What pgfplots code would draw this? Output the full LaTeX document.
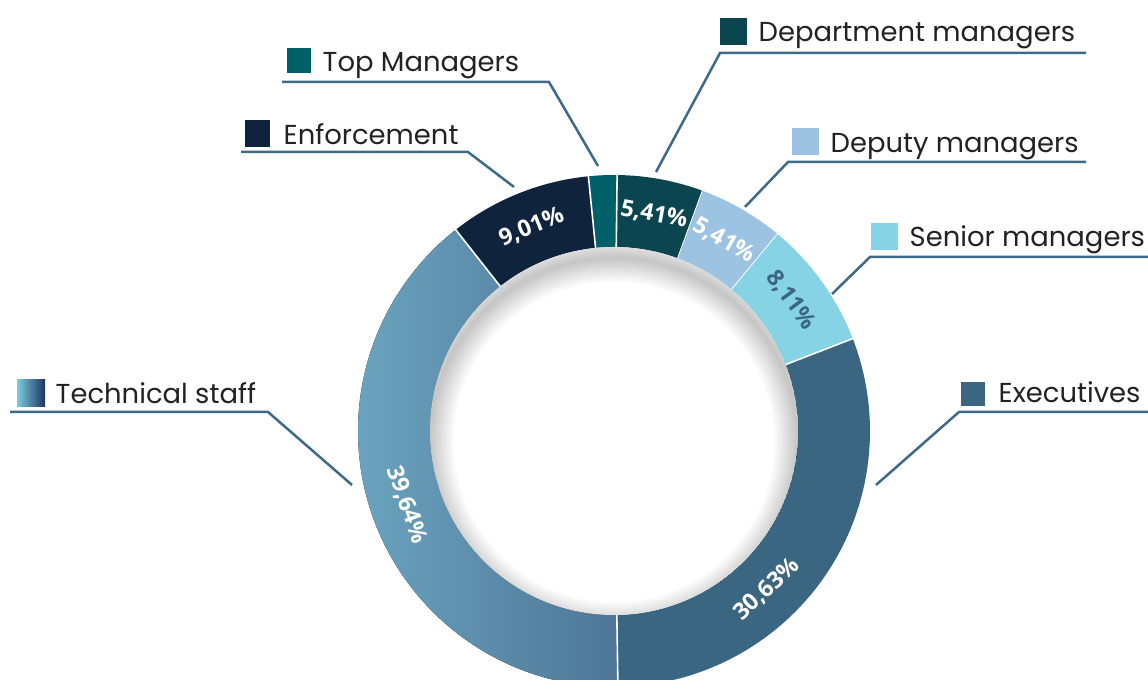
\documentclass[border=0pt]{standalone}
\usepackage{fontspec}
\setmainfont{Poppins}
\newfontfamily\numfont{Open Sans}
\usepackage{pgfplots}
\pgfplotsset{compat=1.18}

\definecolor{cDept}{HTML}{0B4650}
\definecolor{cDep}{HTML}{9DC3E3}
\definecolor{cSen}{HTML}{85D3E5}
\definecolor{cExe}{HTML}{3A6682}
\definecolor{techL}{HTML}{6AA3BF}
\definecolor{techD}{HTML}{4E7696}
\definecolor{cEnf}{HTML}{10233C}
\definecolor{cTop}{HTML}{00606A}
\definecolor{swL}{HTML}{7CCBE0}
\definecolor{swD}{HTML}{1C335F}
\definecolor{lead}{HTML}{3D6A88}
\definecolor{txt}{HTML}{222222}

% shares in percent, clockwise from the top
\def\pDept{5.41}\def\pDep{5.41}\def\pSen{8.11}\def\pExe{30.63}
\def\pTech{39.64}\def\pEnf{9.01}\def\pTop{1.80}

\newcommand\seg[3]{\fill[#3] (#1:25.6mm) arc[start angle=#1,end angle=#2,radius=25.6mm]
  -- (#2:18.4mm) arc[start angle=#2,end angle=#1,radius=18.4mm] -- cycle;}
\newcommand\sep[1]{\draw[white,line width=0.16mm] (#1:18.3mm) -- (#1:25.7mm);}
\newcommand\lab[4]{\node[text=#4,rotate=#2,font=\numfont\bfseries\fontsize{6.6}{7}\selectfont]
  at (#1:22mm) {#3};}

\begin{document}
\begin{tikzpicture}
\pgfmathsetmacro\aA{89.3}
\pgfmathsetmacro\aB{\aA-3.6*\pDept}
\pgfmathsetmacro\aC{\aB-3.6*\pDep}
\pgfmathsetmacro\aD{\aC-3.6*\pSen}
\pgfmathsetmacro\aE{\aD-3.6*\pExe}
\pgfmathsetmacro\aF{\aE-3.6*\pTech}
\pgfmathsetmacro\aG{\aF-3.6*\pEnf}
\pgfmathsetmacro\aH{\aG-3.6*\pTop}
\begin{axis}[width=11.48cm, height=6.8cm, scale only axis,
  xmin=0, xmax=1148, ymin=0, ymax=680, hide axis, clip=true]

\begin{scope}[shift={(axis cs:614,249)}]
  \seg{\aA}{\aB}{cDept}
  \seg{\aB}{\aC}{cDep}
  \seg{\aC}{\aD}{cSen}
  \seg{\aD}{\aE}{cExe}
  \seg{\aE}{\aF}{left color=techL, right color=techD}
  \seg{\aF}{\aG}{cEnf}
  \seg{\aG}{\aH}{cTop}
  \sep{\aA}\sep{\aD}\sep{\aE}\sep{\aF}\sep{\aG}
  \draw[white,line width=0.08mm] (\aB:18.3mm) -- (\aB:25.7mm);
  \draw[white,line width=0.08mm] (\aC:18.3mm) -- (\aC:25.7mm);
  % inner shadow, cast downwards
  \begin{scope}
    \clip (0,0) circle (18.4mm);
    \fill[white] (0,0) circle (18.4mm);
    \pgfplotsinvokeforeach{1,...,14}{
      \draw[black,opacity=0.014,line width=#1*0.34mm] (0,-1.1mm) circle (18.4mm);
    }
  \end{scope}
  \lab{79.5}{-10.5}{5,41\%}{white}
  \lab{60}{-30}{5,41\%}{white}
  \lab{36.5}{-53.5}{8,11\%}{cExe}
  \lab{-46}{43}{30,63\%}{white}
  \lab{-160.4}{-70.4}{39,64\%}{white}
  \lab{112}{22}{9,01\%}{white}
\end{scope}

% leader lines
\draw[lead,line width=0.25mm] (axis cs:1086,627) -- (axis cs:720,627) -- (axis cs:656,508);
\draw[lead,line width=0.25mm] (axis cs:1086,518) -- (axis cs:788,518) -- (axis cs:745,473);
\draw[lead,line width=0.25mm] (axis cs:1148,423) -- (axis cs:870,423) -- (axis cs:832,386);
\draw[lead,line width=0.25mm] (axis cs:1148,268) -- (axis cs:959,268) -- (axis cs:876,195);
\draw[lead,line width=0.25mm] (axis cs:10,268) -- (axis cs:268,268) -- (axis cs:352,195);
\draw[lead,line width=0.25mm] (axis cs:241,528) -- (axis cs:468,528) -- (axis cs:514,493);
\draw[lead,line width=0.25mm] (axis cs:282,598) -- (axis cs:549,598) -- (axis cs:598,514);

% legend squares
\fill[cDept] (axis cs:720,635) rectangle (axis cs:747,662);
\fill[cDep] (axis cs:792,525) rectangle (axis cs:819,552);
\fill[cSen] (axis cs:871,430) rectangle (axis cs:898,457);
\fill[cExe] (axis cs:961,274) rectangle (axis cs:985,298);
\shade[left color=swL, right color=swD] (axis cs:17,273) rectangle (axis cs:45,300);
\fill[cEnf] (axis cs:245,533) rectangle (axis cs:270,560);
\fill[cTop] (axis cs:287,607) rectangle (axis cs:311,632);

% legend texts
\begin{scope}[every node/.style={anchor=base west,inner sep=0pt,text=txt,
    font=\fontsize{7.8}{9}\selectfont}]
\node at (axis cs:758,638) {Department managers};
\node at (axis cs:830,527) {Deputy managers};
\node at (axis cs:909,433) {Senior managers};
\node at (axis cs:998,277) {Executives};
\node at (axis cs:55,276) {Technical staff};
\node at (axis cs:283,535) {Enforcement};
\node at (axis cs:322,608) {Top Managers};
\end{scope}
\end{axis}
\pgfresetboundingbox
\path (current axis.south west) rectangle (current axis.north east);
\end{tikzpicture}
\end{document}
